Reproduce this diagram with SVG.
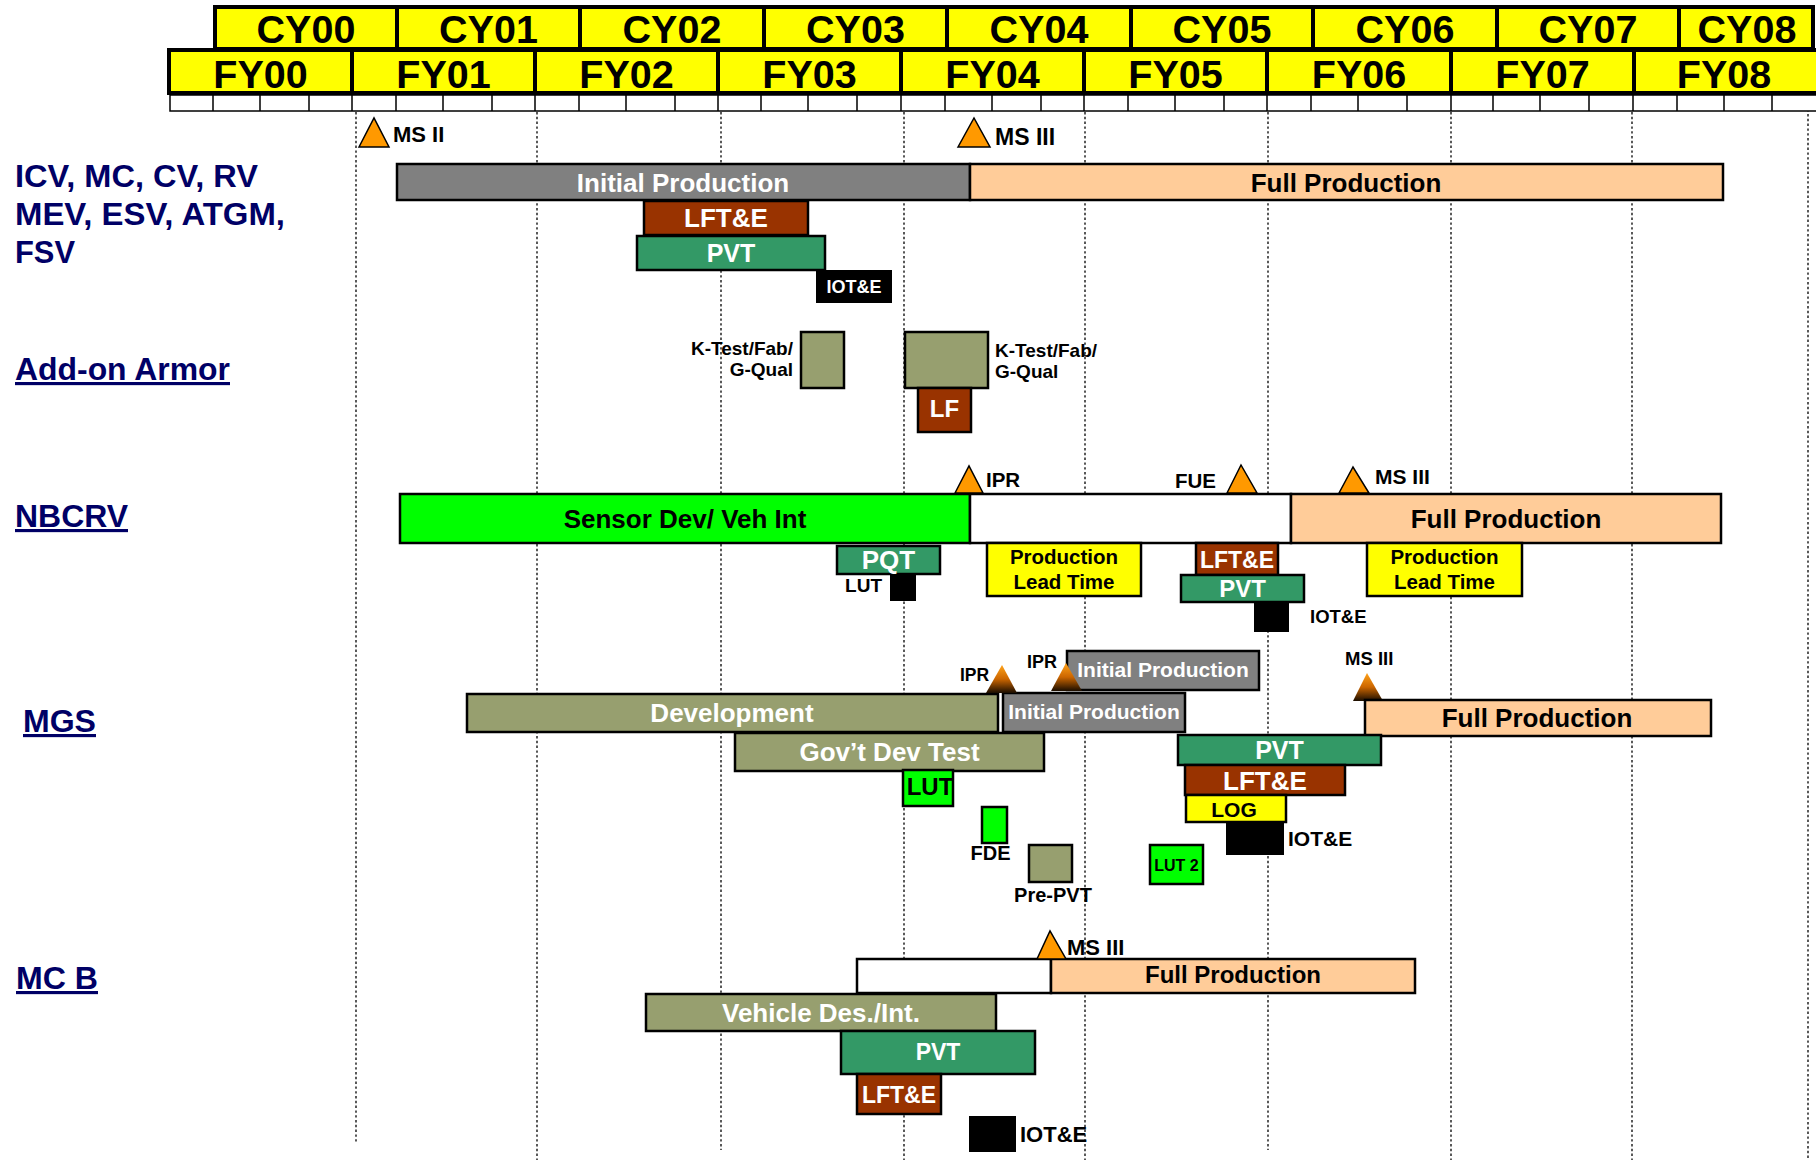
<svg xmlns="http://www.w3.org/2000/svg" width="1816" height="1160" viewBox="0 0 1816 1160">
<defs>
<linearGradient id="gtri" x1="0" y1="0" x2="0" y2="1">
<stop offset="0" stop-color="#FFA31A"/>
<stop offset="0.5" stop-color="#CC6600"/>
<stop offset="1" stop-color="#1A0D00"/>
</linearGradient>
<style>
text{font-family:"Liberation Sans",Arial,Helvetica,sans-serif;font-weight:bold}
.hdr{fill:#FFFF00;stroke:#000;stroke-width:4}
.div{stroke:#000;stroke-width:4}
.hy{font-size:39.5px;fill:#000;text-anchor:middle}
.q{fill:#fff;stroke:#000;stroke-width:1.5}
.ql{stroke:#000;stroke-width:1.5}
.grid line{stroke:#000;stroke-width:1.3;stroke-dasharray:2.4 2.4}
.lab{font-size:31.5px;fill:#000066}
.u{text-decoration:underline}
.bar{stroke:#000;stroke-width:2.5}
.grey{fill:#808080}.peach{fill:#FFCC99}.brown{fill:#993300}.green{fill:#339966}.lime{fill:#00FF00}.olive{fill:#979F6F}.yellow{fill:#FFFF00}.blk{fill:#000}.wbox{fill:#fff}
.ms{fill:#FF9900;stroke:#000;stroke-width:1.5}
.msg{fill:url(#gtri)}
.c{text-anchor:middle}.e{text-anchor:end}
.tw{fill:#fff}.tb{fill:#000}
</style>
</defs>
<rect width="1816" height="1160" fill="#fff"/>

<g id="grid" class="grid">
<line x1="356" y1="112" x2="356" y2="1144"/>
<line x1="537" y1="112" x2="537" y2="1160"/>
<line x1="721" y1="112" x2="721" y2="1150"/>
<line x1="904" y1="112" x2="904" y2="1160"/>
<line x1="1085" y1="112" x2="1085" y2="1160"/>
<line x1="1268" y1="112" x2="1268" y2="1150"/>
<line x1="1451" y1="112" x2="1451" y2="1160"/>
<line x1="1632" y1="112" x2="1632" y2="1160"/>
<line x1="1808" y1="90" x2="1808" y2="1160"/>
</g>

<g id="header">
<rect class="hdr" x="215" y="7" width="1598" height="42"/>
<line class="div" x1="397" y1="7" x2="397" y2="49"/>
<line class="div" x1="580" y1="7" x2="580" y2="49"/>
<line class="div" x1="764" y1="7" x2="764" y2="49"/>
<line class="div" x1="947" y1="7" x2="947" y2="49"/>
<line class="div" x1="1131" y1="7" x2="1131" y2="49"/>
<line class="div" x1="1313" y1="7" x2="1313" y2="49"/>
<line class="div" x1="1497" y1="7" x2="1497" y2="49"/>
<line class="div" x1="1679" y1="7" x2="1679" y2="49"/>
<text class="hy" x="306" y="43">CY00</text>
<text class="hy" x="488.5" y="43">CY01</text>
<text class="hy" x="672" y="43">CY02</text>
<text class="hy" x="855.5" y="43">CY03</text>
<text class="hy" x="1039" y="43">CY04</text>
<text class="hy" x="1222" y="43">CY05</text>
<text class="hy" x="1405" y="43">CY06</text>
<text class="hy" x="1588" y="43">CY07</text>
<text class="hy" x="1747" y="43">CY08</text>

<rect class="hdr" x="169" y="50" width="1650" height="43"/>
<line class="div" x1="352" y1="50" x2="352" y2="93"/>
<line class="div" x1="535" y1="50" x2="535" y2="93"/>
<line class="div" x1="718" y1="50" x2="718" y2="93"/>
<line class="div" x1="901" y1="50" x2="901" y2="93"/>
<line class="div" x1="1084" y1="50" x2="1084" y2="93"/>
<line class="div" x1="1267" y1="50" x2="1267" y2="93"/>
<line class="div" x1="1451" y1="50" x2="1451" y2="93"/>
<line class="div" x1="1634" y1="50" x2="1634" y2="93"/>
<text class="hy" x="260.5" y="88">FY00</text>
<text class="hy" x="443.5" y="88">FY01</text>
<text class="hy" x="626.5" y="88">FY02</text>
<text class="hy" x="809.5" y="88">FY03</text>
<text class="hy" x="992.5" y="88">FY04</text>
<text class="hy" x="1175.5" y="88">FY05</text>
<text class="hy" x="1359" y="88">FY06</text>
<text class="hy" x="1542.5" y="88">FY07</text>
<text class="hy" x="1724" y="88">FY08</text>

<rect class="q" x="170" y="95" width="1650" height="16"/>
<path class="ql" d="M213,95V111M260,95V111M309,95V111M352,95V111M396,95V111M443,95V111M492,95V111M535,95V111M579,95V111M626,95V111M675,95V111M718,95V111M761,95V111M808,95V111M857,95V111M901,95V111M945,95V111M992,95V111M1041,95V111M1084,95V111M1128,95V111M1175,95V111M1224,95V111M1267,95V111M1311,95V111M1358,95V111M1407,95V111M1451,95V111M1493,95V111M1540,95V111M1589,95V111M1633,95V111M1677,95V111M1724,95V111M1772,95V111"/>
</g>

<g id="labels">
<text class="lab" x="15" y="187" textLength="243" lengthAdjust="spacingAndGlyphs">ICV, MC, CV, RV</text>
<text class="lab" x="15" y="225" textLength="270" lengthAdjust="spacingAndGlyphs">MEV, ESV, ATGM,</text>
<text class="lab" x="15" y="263" textLength="60" lengthAdjust="spacingAndGlyphs">FSV</text>
<text class="lab u" x="15" y="380" textLength="215" lengthAdjust="spacingAndGlyphs">Add-on Armor</text>
<text class="lab u" x="15" y="527" textLength="113" lengthAdjust="spacingAndGlyphs">NBCRV</text>
<text class="lab u" x="23" y="732" textLength="73" lengthAdjust="spacingAndGlyphs">MGS</text>
<text class="lab u" x="16" y="989" textLength="82" lengthAdjust="spacingAndGlyphs">MC B</text>
</g>

<g id="icv">
<g id="icv-ms2"><polygon class="ms" points="359,147 374,118 389,147"/><text x="393" y="142" font-size="22">MS II</text></g>
<g id="icv-ms3"><polygon class="ms" points="958,147 974,118 990,147"/><text x="995" y="145" font-size="23">MS III</text></g>
<g id="icv-initial"><rect class="bar grey" x="397" y="164" width="573" height="36"/><text class="c tw" x="683" y="192" font-size="26">Initial Production</text></g>
<g id="icv-full"><rect class="bar peach" x="970" y="164" width="753" height="36"/><text class="c tb" x="1346" y="192" font-size="26">Full Production</text></g>
<g id="icv-lfte"><rect class="bar brown" x="644" y="201" width="164" height="34"/><text class="c tw" x="726" y="227" font-size="26">LFT&amp;E</text></g>
<g id="icv-pvt"><rect class="bar green" x="637" y="236" width="188" height="34"/><text class="c tw" x="731" y="262" font-size="25">PVT</text></g>
<g id="icv-iote"><rect class="blk" x="816" y="270" width="76" height="33"/><text class="c tw" x="854" y="293" font-size="18">IOT&amp;E</text></g>
</g>

<g id="armor">
<g id="armor-k1"><rect class="bar olive" x="801" y="332" width="43" height="56"/><text class="e" x="793" y="355" font-size="19">K-Test/Fab/</text><text class="e" x="793" y="376" font-size="19">G-Qual</text></g>
<g id="armor-k2"><rect class="bar olive" x="905" y="332" width="83" height="56"/><text x="995" y="357" font-size="19">K-Test/Fab/</text><text x="995" y="378" font-size="19">G-Qual</text></g>
<g id="armor-lf"><rect class="bar brown" x="918" y="388" width="53" height="44"/><text class="c tw" x="944.5" y="417" font-size="24">LF</text></g>
</g>

<g id="nbcrv">
<g id="nb-sensor"><rect class="bar lime" x="400" y="494" width="570" height="49"/><text class="c tb" x="685" y="528" font-size="26">Sensor Dev/ Veh Int</text></g>
<g id="nb-gap"><rect class="bar wbox" x="970" y="494" width="321" height="49"/></g>
<g id="nb-full"><rect class="bar peach" x="1291" y="494" width="430" height="49"/><text class="c tb" x="1506" y="528" font-size="26">Full Production</text></g>
<g id="nb-ipr"><polygon class="ms" points="955,493 969,466 983,493"/><text x="986" y="487" font-size="20.5">IPR</text></g>
<g id="nb-fue"><polygon class="ms" points="1227,493 1241,465 1257,493"/><text class="e" x="1216" y="488" font-size="20.5">FUE</text></g>
<g id="nb-ms3"><polygon class="ms" points="1339,493 1353,467 1369,493"/><text x="1375" y="484" font-size="21">MS III</text></g>
<g id="nb-pqt"><rect class="bar green" x="837" y="546" width="103" height="28"/><text class="c tw" x="888.5" y="569" font-size="26">PQT</text></g>
<g id="nb-lut"><rect class="blk" x="890" y="574" width="26" height="27"/><text class="e" x="882" y="592" font-size="19">LUT</text></g>
<g id="nb-plt1"><rect class="bar yellow" x="987" y="543" width="154" height="53"/><text class="c tb" x="1064" y="564" font-size="20.5">Production</text><text class="c tb" x="1064" y="589" font-size="20.5">Lead Time</text></g>
<g id="nb-lfte"><rect class="bar brown" x="1196" y="543" width="82" height="32"/><text class="c tw" x="1237" y="568" font-size="23">LFT&amp;E</text></g>
<g id="nb-pvt"><rect class="bar green" x="1181" y="575" width="123" height="27"/><text class="c tw" x="1242.5" y="597" font-size="24">PVT</text></g>
<g id="nb-iote"><rect class="blk" x="1254" y="602" width="35" height="30"/><text x="1310" y="623" font-size="18.5">IOT&amp;E</text></g>
<g id="nb-plt2"><rect class="bar yellow" x="1367" y="543" width="155" height="53"/><text class="c tb" x="1444.5" y="564" font-size="20.5">Production</text><text class="c tb" x="1444.5" y="589" font-size="20.5">Lead Time</text></g>
</g>

<g id="mgs">
<g id="mgs-dev"><rect class="bar olive" x="467" y="694" width="531" height="38" stroke-width="3"/><text class="c tw" x="732" y="722" font-size="26">Development</text></g>
<g id="mgs-gdt"><rect class="bar olive" x="735" y="733" width="309" height="38" stroke-width="3"/><text class="c tw" x="889.5" y="761" font-size="26">Gov’t Dev Test</text></g>
<g id="mgs-ip1"><rect class="bar grey" x="1003" y="693" width="182" height="39"/><text class="c tw" x="1094" y="719" font-size="21">Initial Production</text></g>
<g id="mgs-ip2"><rect class="bar grey" x="1067" y="651" width="192" height="39"/><text class="c tw" x="1163" y="677" font-size="21">Initial Production</text></g>
<g id="mgs-ipr1"><polygon class="msg" points="986,693 1002,665 1017,693"/><text x="960" y="681" font-size="17.5">IPR</text></g>
<g id="mgs-ipr2"><polygon class="msg" points="1051,691 1066,663 1082,691"/><text x="1027" y="668" font-size="18">IPR</text></g>
<g id="mgs-ms3"><polygon class="msg" points="1353,701 1367,673 1383,701"/><text x="1345" y="665" font-size="18.5">MS III</text></g>
<g id="mgs-full"><rect class="bar peach" x="1365" y="700" width="346" height="36"/><text class="c tb" x="1537" y="727" font-size="26">Full Production</text></g>
<g id="mgs-pvt"><rect class="bar green" x="1178" y="735" width="203" height="30"/><text class="c tw" x="1279.5" y="759" font-size="25">PVT</text></g>
<g id="mgs-lfte"><rect class="bar brown" x="1185" y="765" width="160" height="30"/><text class="c tw" x="1265" y="790" font-size="26">LFT&amp;E</text></g>
<g id="mgs-log"><rect class="bar yellow" x="1186" y="795" width="100" height="27"/><text class="c tb" x="1234" y="817" font-size="21">LOG</text></g>
<g id="mgs-iote"><rect class="blk" x="1226" y="822" width="58" height="33"/><text x="1288" y="846" font-size="21">IOT&amp;E</text></g>
<g id="mgs-lut"><rect class="bar lime" x="903" y="770" width="50" height="36"/><text class="c tb" x="930" y="795" font-size="24">LUT</text></g>
<g id="mgs-fde"><rect class="bar lime" x="982" y="807" width="25" height="36"/><text class="c" x="990.5" y="860" font-size="20">FDE</text></g>
<g id="mgs-prepvt"><rect class="bar olive" x="1029" y="845" width="43" height="37"/><text class="c" x="1053" y="902" font-size="20">Pre-PVT</text></g>
<g id="mgs-lut2"><rect class="bar lime" x="1150" y="845" width="53" height="39"/><text class="c tb" x="1176.5" y="871" font-size="16">LUT 2</text></g>
</g>

<g id="mcb">
<g id="mcb-gap"><rect class="bar wbox" x="857" y="959" width="194" height="34"/></g>
<g id="mcb-full"><rect class="bar peach" x="1051" y="959" width="364" height="34"/><text class="c tb" x="1233" y="983" font-size="24">Full Production</text></g>
<g id="mcb-ms3"><polygon class="ms" points="1037,959 1050,931 1066,959"/><text x="1067" y="955" font-size="22">MS III</text></g>
<g id="mcb-veh"><rect class="bar olive" x="646" y="994" width="350" height="37" stroke-width="3"/><text class="c tw" x="821" y="1022" font-size="26">Vehicle Des./Int.</text></g>
<g id="mcb-pvt"><rect class="bar green" x="841" y="1031" width="194" height="43"/><text class="c tw" x="938" y="1060" font-size="23">PVT</text></g>
<g id="mcb-lfte"><rect class="bar brown" x="857" y="1074" width="84" height="40"/><text class="c tw" x="899" y="1103" font-size="23">LFT&amp;E</text></g>
<g id="mcb-iote"><rect class="blk" x="969" y="1116" width="47" height="36"/><text x="1020" y="1142" font-size="22">IOT&amp;E</text></g>
</g>
<g id="connectors"/>
</svg>
